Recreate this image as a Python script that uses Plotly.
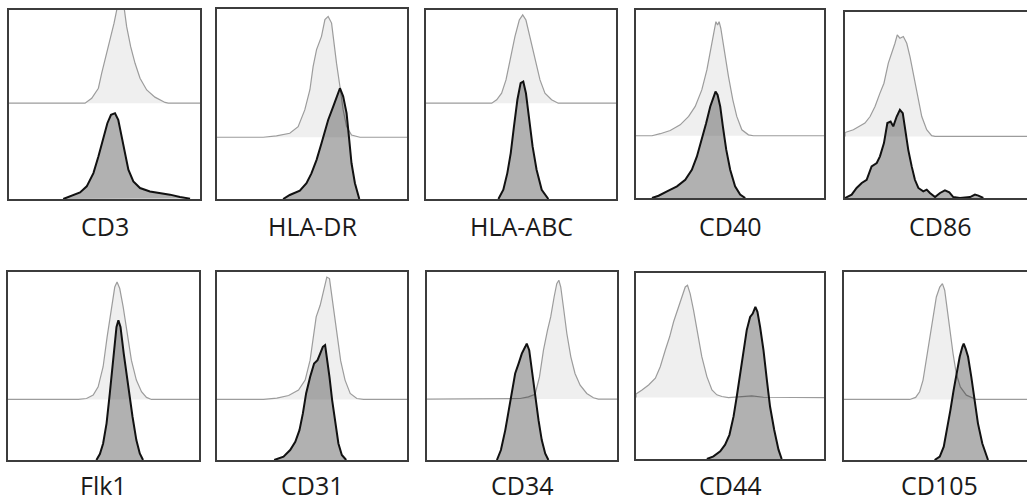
import plotly.graph_objects as go

# ---------------- data (x: % of panel width, y: % of panel height) -------------
markers = ["CD3", "HLA-DR", "HLA-ABC", "CD40", "CD86",
           "Flk1", "CD31", "CD34", "CD44", "CD105"]

# isotype control (light) histograms, drawn on an offset baseline
cd3_iso_x = [0, 39.8, 43.3, 46.8, 48.5, 50.8, 52.9, 55.0, 57.2, 59.9, 61.6, 63.7, 66.0, 68.6, 72.1, 76.4, 81.7, 83.4, 100]
cd3_iso_y = [50.7, 50.7, 53.3, 58.6, 66.5, 75.4, 84.2, 93.0, 104, 104, 91.2, 80.6, 71.8, 63.9, 57.7, 53.9, 51.1, 50.7, 50.7]
hladr_iso_x = [0, 24.3, 31.3, 38.3, 42.7, 46.2, 48.9, 50.6, 52.4, 55.0, 56.8, 58.5, 60.3, 61.5, 62.9, 64.7, 66.4, 68.2, 70.8, 75.2, 100]
hladr_iso_y = [32.5, 32.5, 33.2, 34.6, 38.1, 46.9, 57.5, 69.8, 78.6, 85.6, 94.4, 96.1, 92.6, 82.1, 71.5, 59.2, 46.9, 38.1, 33.7, 32.5, 32.5]
hlaabc_iso_x = [0, 34.6, 37.2, 39.8, 42.1, 44.2, 46.8, 49.1, 50.9, 52.6, 54.7, 57.4, 60.0, 62.6, 66.1, 69.6, 100]
hlaabc_iso_y = [50.7, 50.7, 52.5, 56.0, 63.0, 73.6, 85.9, 94.7, 97.4, 94.7, 85.9, 73.6, 63.0, 56.0, 52.5, 50.7, 50.7]
cd40_iso_x = [0, 8.5, 12.9, 18.2, 23.5, 28.0, 31.5, 35.0, 37.7, 39.8, 41.6, 42.5, 43.4, 44.2, 45.1, 46.9, 49.2, 51.5, 53.6, 56.3, 59.8, 62.5, 100]
cd40_iso_y = [33.1, 33.1, 34.2, 35.9, 38.9, 43.4, 48.7, 57.5, 68.1, 78.8, 89.4, 93.8, 92.0, 93.8, 90.3, 78.8, 64.6, 52.2, 43.4, 36.3, 33.6, 33.1, 33.1]
cd86_iso_x = [0, 0, 4.4, 7.9, 10.5, 13.2, 15.8, 18.4, 20.5, 22.8, 24.6, 26.3, 27.5, 28.9, 30.7, 32.5, 34.2, 36.3, 38.1, 40.4, 43.0, 45.6, 47.4, 100]
cd86_iso_y = [33.1, 35.2, 36.7, 38.8, 40.3, 43.8, 49.2, 56.4, 61.7, 72.5, 77.8, 83.2, 87.7, 85.9, 86.8, 83.2, 76.0, 65.3, 54.6, 43.8, 36.7, 33.5, 33.1, 33.1]
flk1_iso_x = [0, 36.8, 41.1, 44.6, 47.2, 49.8, 51.9, 54.2, 55.9, 57.1, 58.5, 60.3, 62.4, 64.6, 67.2, 69.9, 72.5, 75.1, 100]
flk1_iso_y = [32.2, 32.2, 32.7, 34.5, 38.9, 49.6, 65.5, 81.4, 92.0, 94.7, 91.2, 81.4, 67.3, 53.1, 42.5, 36.3, 33.3, 32.2, 32.2]
cd31_iso_x = [0, 24.5, 31.5, 37.7, 42.9, 46.4, 49.0, 50.8, 52.2, 54.3, 56.4, 57.8, 59.2, 60.4, 61.6, 63.4, 65.1, 67.4, 70.1, 73.6, 77.1, 100]
cd31_iso_y = [32.2, 32.2, 32.9, 34.3, 37.2, 42.5, 53.1, 65.5, 76.1, 82.3, 92.0, 97.3, 96.5, 88.1, 77.5, 65.1, 52.7, 42.5, 35.4, 32.7, 32.2, 32.2]
cd34_iso_x = [0, 43.8, 49.0, 53.4, 56.9, 59.2, 61.3, 63.4, 65.1, 66.9, 68.3, 69.4, 70.4, 71.8, 73.6, 75.7, 77.9, 80.6, 84.1, 87.6, 90.2, 100]
cd34_iso_y = [32.4, 32.4, 32.7, 33.6, 35.0, 44.2, 58.4, 69.0, 76.1, 86.7, 93.8, 95.6, 92.0, 81.4, 67.3, 54.9, 46.0, 39.8, 35.4, 33.1, 32.4, 32.4]
cd44_iso_x = [0, 0, 3.2, 6.7, 10.3, 12.9, 15.6, 17.9, 20.0, 22.1, 24.4, 26.2, 27.4, 28.8, 30.6, 32.7, 35.0, 37.7, 40.4, 43.0, 45.7, 49.2, 55.4, 61.6, 67.8, 100]
cd44_iso_y = [33.0, 35.0, 37.1, 39.8, 43.4, 49.6, 58.6, 65.7, 73.8, 80.0, 87.1, 92.5, 93.4, 88.9, 80.0, 67.5, 55.0, 44.3, 37.1, 34.5, 33.6, 33.0, 33.4, 33.9, 33.2, 33.0]
cd105_iso_x = [0, 34.6, 37.7, 39.8, 41.6, 43.3, 45.1, 46.8, 48.6, 50.4, 51.8, 53.0, 54.2, 55.6, 57.4, 59.1, 61.2, 64.4, 67.9, 69.6, 100]
cd105_iso_y = [32.2, 32.2, 33.3, 36.3, 42.5, 53.1, 63.7, 76.1, 86.7, 92.0, 93.8, 90.3, 81.4, 69.0, 56.6, 46.0, 38.9, 34.5, 32.7, 32.2, 32.2]

# stained sample (dark) histograms
cd3_st_x = [28.4, 31.9, 37.2, 40.7, 44.2, 46.8, 49.4, 51.5, 53.4, 55.5, 57.2, 59.0, 60.7, 62.5, 65.1, 68.6, 73.8, 79.1, 84.3, 89.5, 94.8]
cd3_st_y = [0, 1.4, 3.5, 6.7, 13.7, 22.5, 33.1, 40.1, 44.5, 45.4, 41.9, 33.1, 24.3, 15.5, 9.3, 5.8, 4.0, 3.2, 2.3, 1.1, 0.2]
hladr_st_x = [34.8, 38.3, 43.6, 47.1, 49.7, 52.4, 55.0, 56.8, 58.5, 61.2, 63.3, 64.7, 66.4, 68.2, 69.6, 70.8, 72.6, 74.9]
hladr_st_y = [0, 2.1, 4.4, 8.3, 13.5, 20.6, 29.3, 36.4, 41.6, 48.7, 54.0, 58.3, 54.0, 45.2, 31.1, 18.8, 8.3, 0]
hlaabc_st_x = [38.1, 40.7, 42.8, 44.6, 46.3, 48.1, 49.8, 51.2, 52.6, 54.4, 56.1, 58.2, 60.9, 64.4]
hlaabc_st_y = [0, 4.9, 13.7, 24.3, 38.4, 52.5, 61.3, 62.1, 56.0, 41.9, 27.8, 15.5, 4.9, 0]
cd40_st_x = [8.5, 12.0, 16.5, 21.8, 26.2, 29.7, 32.4, 35.0, 37.3, 39.5, 41.2, 42.3, 43.4, 44.8, 46.2, 48.0, 50.1, 52.7, 55.4, 58.1]
cd40_st_y = [0, 1.2, 3.5, 6.2, 9.7, 15.0, 22.1, 31.0, 39.8, 48.7, 54.0, 56.6, 54.9, 48.7, 38.1, 25.7, 15.0, 6.2, 1.8, 0]
cd86_st_x = [0, 3.5, 6.1, 8.8, 11.4, 14.0, 16.7, 18.4, 20.5, 22.3, 24.0, 25.4, 27.2, 28.9, 30.4, 31.6, 33.3, 35.1, 36.8, 38.6, 41.2, 43.0, 44.7, 47.4, 50.0, 52.6, 54.9, 57.0, 60.5, 65.8, 68.4, 70.2, 72.8]
cd86_st_y = [0, 1.8, 5.4, 8.1, 9.8, 17.0, 18.8, 22.4, 29.5, 40.3, 41.1, 38.5, 43.8, 47.4, 45.6, 36.7, 25.9, 17.0, 9.8, 5.4, 3.6, 4.5, 2.7, 0.5, 2.7, 4.1, 3.0, 0.5, 0, 0.5, 1.8, 1.3, 0]
flk1_st_x = [46.3, 48.1, 49.8, 51.6, 53.3, 55.1, 56.8, 57.8, 58.9, 60.6, 62.9, 65.2, 67.2, 69.0, 70.7]
flk1_st_y = [0, 3.2, 8.8, 19.5, 35.4, 54.9, 70.8, 74.3, 70.8, 56.6, 38.9, 23.0, 10.6, 3.5, 0]
cd31_st_x = [30.1, 35.0, 38.5, 41.2, 43.4, 45.2, 46.9, 49.0, 51.1, 52.9, 54.3, 55.7, 56.9, 57.8, 59.2, 60.6, 62.2, 63.9, 65.7, 68.0]
cd31_st_y = [0, 1.8, 5.3, 9.7, 15.9, 24.8, 35.4, 44.2, 51.3, 53.1, 56.6, 60.2, 61.1, 54.9, 44.2, 31.9, 19.5, 8.8, 2.7, 0]
cd34_st_x = [36.8, 38.9, 41.2, 42.9, 44.7, 46.4, 48.2, 49.9, 51.7, 52.5, 53.8, 55.2, 56.9, 58.7, 60.4, 62.2, 63.9]
cd34_st_y = [0, 5.3, 15.9, 26.5, 37.2, 46.0, 51.3, 56.6, 60.2, 61.9, 58.4, 47.8, 33.6, 21.2, 10.6, 3.5, 0]
cd44_st_x = [37.7, 41.2, 44.8, 47.4, 49.7, 51.9, 53.6, 55.4, 57.2, 58.9, 60.7, 62.1, 63.5, 64.6, 66.0, 67.8, 69.6, 71.3, 73.5, 75.8, 77.5]
cd44_st_y = [0, 1.4, 4.1, 7.7, 13.0, 22.9, 33.6, 46.1, 58.6, 69.3, 76.4, 78.2, 81.8, 79.1, 71.1, 58.6, 42.5, 28.2, 15.7, 5.0, 0]
cd105_st_x = [47.7, 50.4, 52.5, 54.2, 56.0, 57.7, 59.5, 60.9, 62.3, 63.0, 64.0, 65.3, 67.0, 68.8, 70.5, 72.8, 74.9, 75.8]
cd105_st_y = [0, 1.8, 7.1, 15.9, 26.5, 37.2, 47.8, 54.9, 60.2, 61.9, 59.3, 54.9, 44.2, 31.9, 19.5, 8.8, 1.8, 0]

iso_xs = [cd3_iso_x, hladr_iso_x, hlaabc_iso_x, cd40_iso_x, cd86_iso_x,
          flk1_iso_x, cd31_iso_x, cd34_iso_x, cd44_iso_x, cd105_iso_x]
iso_ys = [cd3_iso_y, hladr_iso_y, hlaabc_iso_y, cd40_iso_y, cd86_iso_y,
          flk1_iso_y, cd31_iso_y, cd34_iso_y, cd44_iso_y, cd105_iso_y]
st_xs = [cd3_st_x, hladr_st_x, hlaabc_st_x, cd40_st_x, cd86_st_x,
         flk1_st_x, cd31_st_x, cd34_st_x, cd44_st_x, cd105_st_x]
st_ys = [cd3_st_y, hladr_st_y, hlaabc_st_y, cd40_st_y, cd86_st_y,
         flk1_st_y, cd31_st_y, cd34_st_y, cd44_st_y, cd105_st_y]

# ---------------- layout (pixel boxes: left, top, right, bottom) --------------
W, H = 1027, 504
PANEL_W = 190.0
boxes = [(9, 10, 200, 199), (217, 9, 407, 199), (426, 10, 616, 199), (636, 10, 824, 198), (845, 12, 1027, 198),
         (8, 272, 199, 460), (217, 272, 407, 460), (427, 272, 617, 460), (636, 273, 824, 459), (844, 272, 1027, 460)]
label_y = [226, 485]

fig = go.Figure()
layout = dict(width=W, height=H, margin=dict(l=0, r=0, t=0, b=0),
              paper_bgcolor="white", plot_bgcolor="white", showlegend=False,
              annotations=[])

for i, (l, t, r, b) in enumerate(boxes):
    n = i + 1
    xa, ya = ("x" if n == 1 else f"x{n}"), ("y" if n == 1 else f"y{n}")
    cut = r >= W  # right side of last column is cropped
    xmax = 100.0 * (r - l) / PANEL_W if cut else 100.0
    ax_style = dict(showgrid=False, zeroline=False, showticklabels=False, ticks="",
                    showline=True, linecolor="#3c3c3c", linewidth=2, fixedrange=True)
    layout[f"xaxis{'' if n == 1 else n}"] = dict(domain=[l / W, min(r / W, 1.0)], range=[0, xmax],
                                                 anchor=ya, mirror=True, **ax_style)
    layout[f"yaxis{'' if n == 1 else n}"] = dict(domain=[1 - b / H, 1 - t / H], range=[0, 100],
                                                 anchor=xa, mirror=(not cut), **ax_style)
    # isotype (light) histogram
    fig.add_trace(go.Scatter(x=iso_xs[i], y=iso_ys[i], xaxis=xa, yaxis=ya, mode="lines",
                             fill="toself", fillcolor="#efefef",
                             line=dict(color="#9c9c9c", width=1.2), hoverinfo="skip"))
    # stained (dark) histogram
    fig.add_trace(go.Scatter(x=st_xs[i], y=st_ys[i], xaxis=xa, yaxis=ya, mode="lines",
                             fill="toself", fillcolor="rgba(40,40,40,0.36)",
                             line=dict(color="#111111", width=2), hoverinfo="skip"))
    cx = (l + (l + PANEL_W if cut else r)) / 2.0
    layout["annotations"].append(dict(
        text=markers[i], xref="paper", yref="paper", x=cx / W, y=1 - label_y[i // 5] / H,
        xanchor="center", yanchor="middle", showarrow=False,
        font=dict(family="Open Sans", size=25, color="#1a1a1a")))

fig.update_layout(**layout)
fig.write_html("out.html")
